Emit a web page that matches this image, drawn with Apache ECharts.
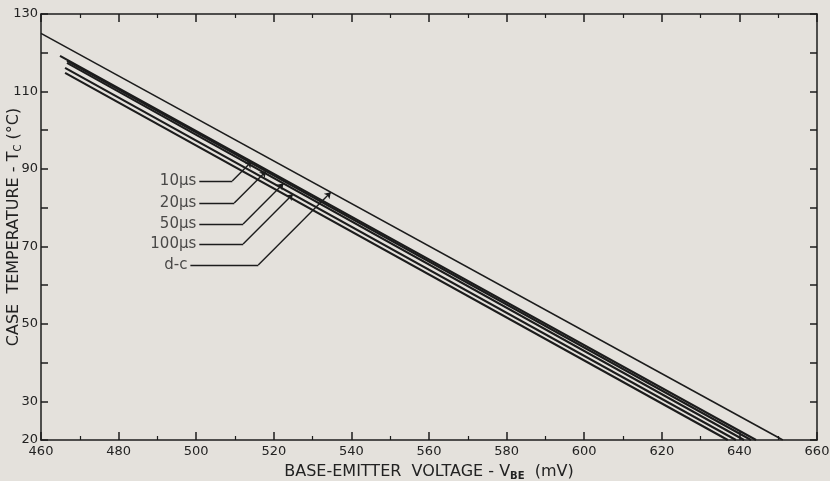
<!DOCTYPE html>
<html>
<head>
<meta charset="utf-8">
<script src="https://cdn.jsdelivr.net/npm/echarts@6/dist/echarts.min.js"></script>
<style>
  html, body { margin: 0; padding: 0; background: #e4e1dc; }
  #chart { width: 830px; height: 481px; }
</style>
</head>
<body>
<div id="chart"></div>
<script>
// curves: [V_BE mV, T_C degC]
const dcCurve = [[460, 125], [651.2, 20]];
const curveA = [[464.9, 119.2], [644.3, 20]];
const curveB1 = [[466.7, 117.9], [643.0, 20]];
const curveB2 = [[466.7, 117.4], [641.2, 20]];
const curveC = [[466.2, 116.1], [639.1, 20]];
const curveD = [[466.2, 114.8], [637.0, 20]];

const curves = [curveA, curveB1, curveB2, curveC, curveD, dcCurve];

// leader annotations
const leaderLabels = ['10μs', '20μs', '50μs', '100μs', 'd-c'];
const leaderTemp = [86.9, 81.2, 75.8, 70.6, 65.2];
const leaderStart = [500.8, 500.8, 500.8, 500.8, 498.5];
const leaderElbow = [509.3, 509.8, 512.1, 512.1, 516.0];
const leaderTip = [514.3, 518.0, 522.5, 524.9, 534.7];
const leaderCurve = [0, 1, 2, 3, 5];

const yLabelValues = [20, 30, 50, 70, 90, 110, 130];

// temperature on a straight curve at a given voltage
function tempAt(curve, v) {
  const [p0, p1] = curve;
  return p0[1] + (p1[1] - p0[1]) * (v - p0[0]) / (p1[0] - p0[0]);
}

const chart = echarts.init(document.getElementById('chart'));

const ink = '#1c1c1c';
const textInk = '#222';
const font = 'DejaVu Sans';

const lineSeries = curves.map((c, i) => ({
  type: 'line',
  data: c,
  symbol: 'none',
  silent: true,
  lineStyle: { color: ink, width: i === 5 ? 1.6 : 2.1 }
}));

const horizontals = leaderLabels.map((_, i) => ({
  coords: [[leaderStart[i], leaderTemp[i]], [leaderElbow[i], leaderTemp[i]]]
}));
const diagonals = leaderLabels.map((_, i) => ({
  coords: [[leaderElbow[i], leaderTemp[i]],
           [leaderTip[i], tempAt(curves[leaderCurve[i]], leaderTip[i])]]
}));

const tickLine = { show: true, lineStyle: { color: ink, width: 1.5 } };

chart.setOption({
  backgroundColor: '#e4e1dc',
  animation: false,
  grid: { left: 41, right: 13, top: 14, bottom: 41, outerBoundsMode: 'none', containLabel: false },
  xAxis: [
    {
      type: 'value', min: 460, max: 660, interval: 20,
      axisLine: tickLine,
      axisTick: { inside: true, length: 8, lineStyle: { color: ink, width: 1.5 } },
      minorTick: { show: true, splitNumber: 2, length: 4, lineStyle: { color: ink, width: 1.2 } },
      splitLine: { show: false },
      axisLabel: { color: textInk, fontFamily: font, fontSize: 13, margin: 5 },
      name: '{a|BASE-EMITTER  VOLTAGE - V}{s|BE}{a|  (mV)}',
      nameLocation: 'middle',
      nameGap: 22,
      nameMoveOverlap: false,
      nameTextStyle: {
        rich: {
          a: { fontFamily: font, fontSize: 16, color: textInk },
          s: { fontFamily: font, fontSize: 10, color: textInk, fontWeight: 'bold', padding: [9, 0, 0, 0] }
        }
      }
    },
    {
      type: 'value', position: 'top', min: 460, max: 660, interval: 20,
      axisLine: tickLine,
      axisTick: { inside: true, length: 8, lineStyle: { color: ink, width: 1.5 } },
      minorTick: { show: true, splitNumber: 2, length: 4, lineStyle: { color: ink, width: 1.2 } },
      splitLine: { show: false },
      axisLabel: { show: false }
    }
  ],
  yAxis: [
    {
      type: 'value', min: 20, max: 130, interval: 10,
      axisLine: tickLine,
      axisTick: { inside: true, length: 7, lineStyle: { color: ink, width: 1.5 } },
      splitLine: { show: false },
      axisLabel: {
        color: textInk, fontFamily: font, fontSize: 13, margin: 3,
        formatter: v => (yLabelValues.includes(v) ? String(v) : '')
      },
      name: '{a|CASE  TEMPERATURE - T}{s|C}{a| (°C)}',
      nameLocation: 'middle',
      nameGap: 18,
      nameMoveOverlap: false,
      nameTextStyle: {
        rich: {
          a: { fontFamily: font, fontSize: 16, color: textInk },
          s: { fontFamily: font, fontSize: 10, color: textInk, padding: [9, 0, 0, 0] }
        }
      }
    },
    {
      type: 'value', position: 'right', min: 20, max: 130, interval: 10,
      axisLine: tickLine,
      axisTick: { inside: true, length: 7, lineStyle: { color: ink, width: 1.5 } },
      splitLine: { show: false },
      axisLabel: { show: false }
    }
  ],
  series: [
    ...lineSeries,
    {
      type: 'lines',
      coordinateSystem: 'cartesian2d',
      silent: true,
      data: horizontals,
      lineStyle: { color: ink, width: 1.4, opacity: 1 }
    },
    {
      type: 'lines',
      coordinateSystem: 'cartesian2d',
      silent: true,
      symbol: ['none', 'arrow'],
      symbolSize: 6,
      data: diagonals,
      lineStyle: { color: ink, width: 1.4, opacity: 1 }
    },
    {
      type: 'scatter',
      silent: true,
      symbolSize: 0,
      data: leaderLabels.map((t, i) => [leaderStart[i], leaderTemp[i]]),
      label: {
        show: true,
        position: 'left',
        distance: 3,
        fontFamily: font,
        fontSize: 15,
        color: textInk,
        formatter: p => leaderLabels[p.dataIndex]
      }
    }
  ]
});
</script>
</body>
</html>
